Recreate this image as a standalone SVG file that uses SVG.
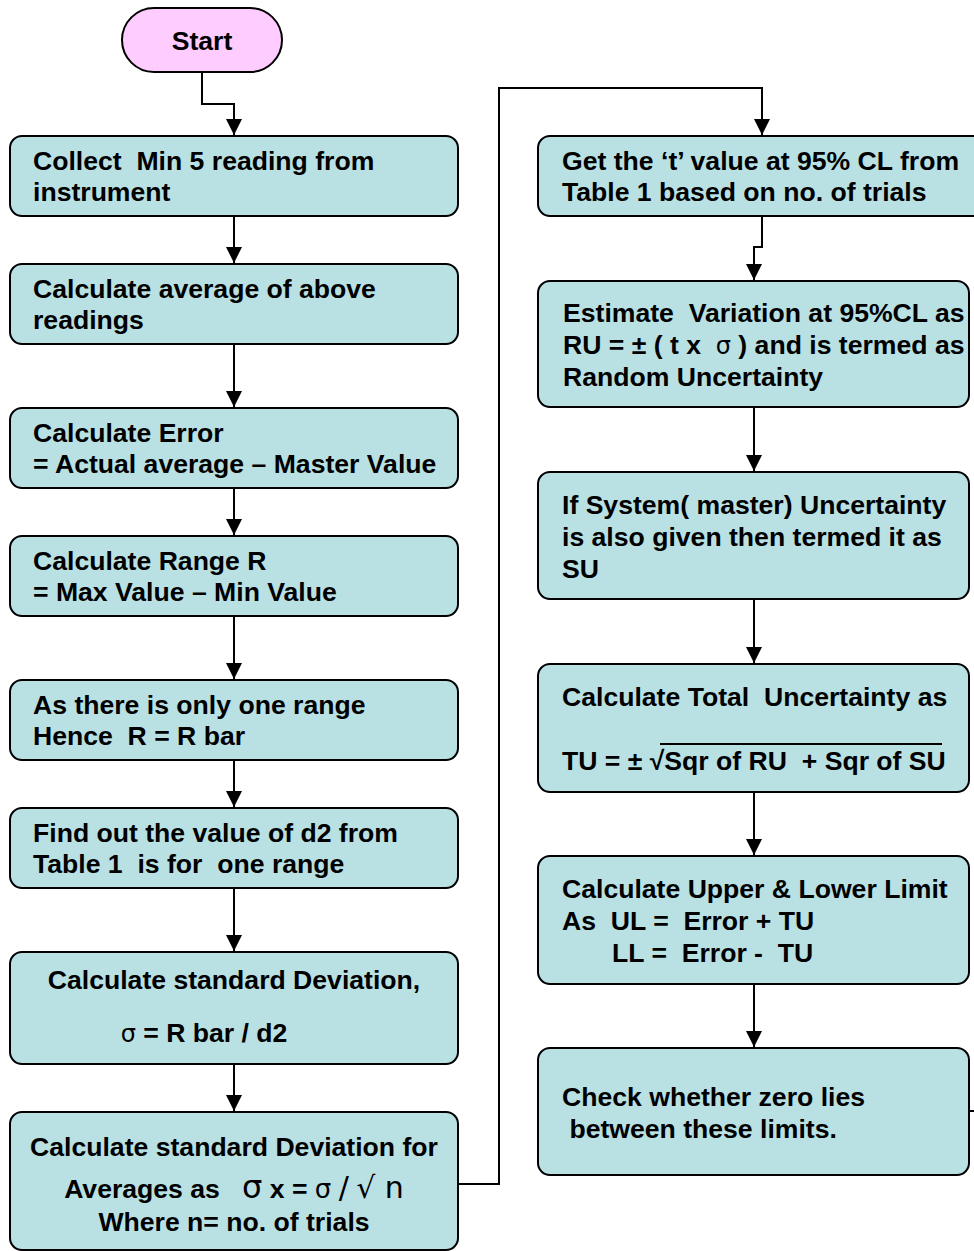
<svg xmlns="http://www.w3.org/2000/svg" width="974" height="1251" viewBox="0 0 974 1251">
  <style>
    .box { fill: #b9e0e3; stroke: #000; stroke-width: 2; }
    .term { fill: #ffccff; stroke: #000; stroke-width: 2; }
    .t { font-family: "Liberation Sans", Arial, sans-serif; font-weight: bold; font-size: 26.6px; fill: #000; white-space: pre; }
    .c { text-anchor: middle; }
    .sym { font-family: "DejaVu Sans", sans-serif; font-weight: normal; }
    .wire { fill: none; stroke: #000; stroke-width: 2; }
  </style>
  <defs>
    <marker id="arrow" viewBox="0 0 16 16" refX="16" refY="8" markerWidth="16" markerHeight="16" markerUnits="userSpaceOnUse" orient="auto">
      <path d="M0,0 L16,8 L0,16 Z" fill="#000"/>
    </marker>
  </defs>

  <rect width="974" height="1251" fill="#fff"/>

  <!-- connectors -->
  <g id="connectors">
    <path class="wire" d="M202,72 V104 H234 V135" marker-end="url(#arrow)"/>
    <path class="wire" d="M234,216 V263" marker-end="url(#arrow)"/>
    <path class="wire" d="M234,344 V407" marker-end="url(#arrow)"/>
    <path class="wire" d="M234,488 V535" marker-end="url(#arrow)"/>
    <path class="wire" d="M234,616 V679" marker-end="url(#arrow)"/>
    <path class="wire" d="M234,760 V807" marker-end="url(#arrow)"/>
    <path class="wire" d="M234,888 V951" marker-end="url(#arrow)"/>
    <path class="wire" d="M234,1064 V1111" marker-end="url(#arrow)"/>
    <path class="wire" d="M458,1184 H499 V88 H762 V135" marker-end="url(#arrow)"/>
    <path class="wire" d="M762,216 V247 H754 V280" marker-end="url(#arrow)"/>
    <path class="wire" d="M754,407 V471" marker-end="url(#arrow)"/>
    <path class="wire" d="M754,599 V663" marker-end="url(#arrow)"/>
    <path class="wire" d="M754,792 V855" marker-end="url(#arrow)"/>
    <path class="wire" d="M754,984 V1047" marker-end="url(#arrow)"/>
    <path class="wire" d="M969,1111 H974"/>
  </g>

  <g id="start">
    <rect class="term" x="122" y="8" width="160" height="64" rx="32"/>
    <text class="t c" x="202" y="50">Start</text>
  </g>

  <g id="collect">
    <rect class="box" x="10" y="136" width="448" height="80" rx="12"/>
    <text class="t" x="33" y="170">Collect  Min 5 reading from</text>
    <text class="t" x="33" y="201">instrument</text>
  </g>

  <g id="average">
    <rect class="box" x="10" y="264" width="448" height="80" rx="12"/>
    <text class="t" x="33" y="298">Calculate average of above</text>
    <text class="t" x="33" y="329">readings</text>
  </g>

  <g id="error">
    <rect class="box" x="10" y="408" width="448" height="80" rx="12"/>
    <text class="t" x="33" y="442">Calculate Error</text>
    <text class="t" x="33" y="473">= Actual average – Master Value</text>
  </g>

  <g id="range">
    <rect class="box" x="10" y="536" width="448" height="80" rx="12"/>
    <text class="t" x="33" y="570">Calculate Range R</text>
    <text class="t" x="33" y="601">= Max Value – Min Value</text>
  </g>

  <g id="rbar">
    <rect class="box" x="10" y="680" width="448" height="80" rx="12"/>
    <text class="t" x="33" y="714">As there is only one range</text>
    <text class="t" x="33" y="745">Hence  R = R bar</text>
  </g>

  <g id="d2">
    <rect class="box" x="10" y="808" width="448" height="80" rx="12"/>
    <text class="t" x="33" y="842">Find out the value of d2 from</text>
    <text class="t" x="33" y="873">Table 1  is for  one range</text>
  </g>

  <g id="stddev">
    <rect class="box" x="10" y="952" width="448" height="112" rx="12"/>
    <text class="t c" x="234" y="989">Calculate standard Deviation,</text>
    <text class="t c" x="204" y="1042"><tspan class="sym" font-size="24">σ</tspan> = R bar / d2</text>
  </g>

  <g id="stddev-avg">
    <rect class="box" x="10" y="1112" width="448" height="138" rx="12"/>
    <text class="t c" x="234" y="1156">Calculate standard Deviation for</text>
    <text class="t c" x="234" y="1198">Averages as   <tspan class="sym" font-size="32">σ</tspan> x = <tspan class="sym" font-size="26">σ</tspan> <tspan class="sym" font-size="30">/</tspan> <tspan class="sym" font-size="30">√ n</tspan></text>
    <text class="t c" x="234" y="1231">Where n= no. of trials</text>
  </g>

  <g id="t-value">
    <rect class="box" x="538" y="136" width="460" height="80" rx="12"/>
    <text class="t" x="562" y="170">Get the ‘t’ value at 95% CL from</text>
    <text class="t" x="562" y="201">Table 1 based on no. of trials</text>
  </g>

  <g id="random-uncertainty">
    <rect class="box" x="538" y="281" width="431" height="126" rx="12"/>
    <text class="t" x="563" y="322">Estimate  Variation at 95%CL as</text>
    <text class="t" x="563" y="354">RU = ± ( t x  <tspan class="sym" font-size="24">σ</tspan> ) and is termed as</text>
    <text class="t" x="563" y="386">Random Uncertainty</text>
  </g>

  <g id="system-uncertainty">
    <rect class="box" x="538" y="472" width="431" height="127" rx="12"/>
    <text class="t" x="562" y="514">If System( master) Uncertainty</text>
    <text class="t" x="562" y="546">is also given then termed it as</text>
    <text class="t" x="562" y="578">SU</text>
  </g>

  <g id="total-uncertainty">
    <rect class="box" x="538" y="664" width="431" height="128" rx="12"/>
    <text class="t" x="562" y="706">Calculate Total  Uncertainty as</text>
    <text class="t" x="562" y="770">TU = ± √Sqr of RU  + Sqr of SU</text>
    <line x1="660" y1="744" x2="942" y2="744" stroke="#000" stroke-width="2"/>
  </g>

  <g id="limits">
    <rect class="box" x="538" y="856" width="431" height="128" rx="12"/>
    <text class="t" x="562" y="898">Calculate Upper &amp; Lower Limit</text>
    <text class="t" x="562" y="930">As  UL =  Error + TU</text>
    <text class="t" x="612" y="962">LL =  Error -  TU</text>
  </g>

  <g id="check">
    <rect class="box" x="538" y="1048" width="431" height="127" rx="12"/>
    <text class="t" x="562" y="1106">Check whether zero lies</text>
    <text class="t" x="562" y="1138"> between these limits.</text>
  </g>
</svg>
